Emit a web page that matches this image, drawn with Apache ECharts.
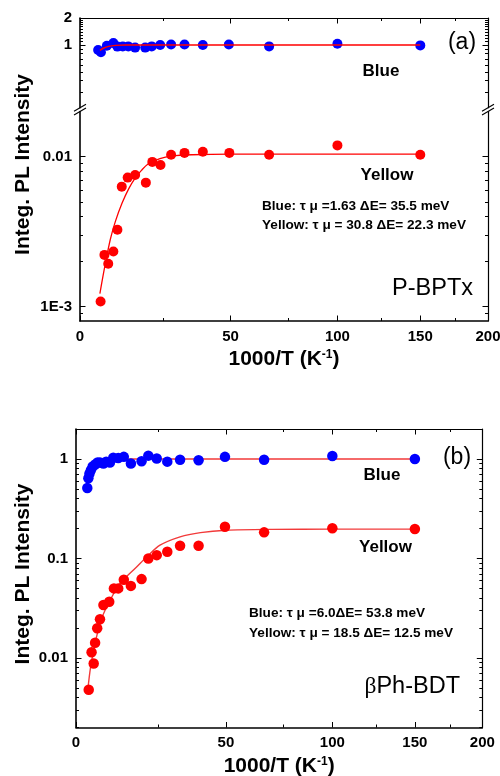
<!DOCTYPE html>
<html>
<head>
<meta charset="utf-8">
<script src="https://cdn.jsdelivr.net/npm/echarts@6/dist/echarts.min.js"></script>
<style>
html, body { margin: 0; padding: 0; background: #fff; }
#chart { width: 500px; height: 776px; }
</style>
</head>
<body>
<div id="chart"></div>
<script>
// ---- 1000/T axis ----
const xRange = [0, 200];
const xMajorTicks = [0, 50, 100, 150, 200];
const xMajorLabels = ['0', '50', '100', '150', '200'];
const xMinorTicks = [25, 75, 125, 175];

// ---- P-BPTx: broken intensity axis ----
const aUpperRange = [0.2, 2];
const aUpperTicks = [1, 2];
const aUpperLabels = ['1', '2'];
const aUpperMinor = [0.3, 0.4, 0.5, 0.6, 0.7, 0.8, 0.9, 1.1, 1.2, 1.3, 1.4, 1.5, 1.6, 1.7, 1.8, 1.9];
const aLowerRange = [0.0008, 0.02];
const aLowerTicks = [0.001, 0.01];
const aLowerLabels = ['1E-3', '0.01'];
const aLowerMinor = [0.0009, 0.002, 0.003, 0.004, 0.005, 0.006, 0.007, 0.008, 0.009];

// ---- βPh-BDT intensity axis ----
const bRange = [0.002, 2];
const bTicks = [0.01, 0.1, 1];
const bLabels = ['0.01', '0.1', '1'];
const bMinor = [0.002, 0.003, 0.004, 0.005, 0.006, 0.007, 0.008, 0.009,
                0.02, 0.03, 0.04, 0.05, 0.06, 0.07, 0.08, 0.09,
                0.2, 0.3, 0.4, 0.5, 0.6, 0.7, 0.8, 0.9];

// ---- P-BPTx measurements ----
const aBlueX = [5.0, 5.8, 7.5, 9.4, 10.6, 12.2, 13.9, 16.0, 19.2, 21.3, 24.1, 27.8, 32.5, 39.2, 49.3, 66.4, 100, 150];
const aBlueY = [0.88, 0.83, 0.98, 1.05, 0.96, 0.965, 0.965, 0.935, 0.935, 0.965, 1.0, 1.015, 1.015, 1.0, 1.015, 0.965, 1.035, 0.99];
const aBlueFitX = [5.5, 6.5, 8, 10, 13, 20, 150];
const aBlueFitY = [0.87, 0.92, 0.965, 0.99, 1.0, 1.0, 1.0];

const aYellowX = [5.7, 6.8, 7.9, 9.4, 10.6, 11.9, 13.7, 16.0, 19.4, 21.5, 24.2, 27.8, 32.5, 39.2, 49.5, 66.4, 100, 150];
const aYellowY = [0.00108, 0.00221, 0.00193, 0.00233, 0.00325, 0.00631, 0.00725, 0.00755, 0.00671, 0.00923, 0.00881, 0.0103, 0.0106, 0.0108, 0.0106, 0.0103, 0.0119, 0.0103];
const aYellowFitX = [5.5, 7, 8.5, 10, 12, 14, 16, 18, 20, 24, 28, 35, 50, 100, 150];
const aYellowFitY = [0.00122, 0.0019, 0.0028, 0.0037, 0.0049, 0.0061, 0.0072, 0.0081, 0.0089, 0.0097, 0.0101, 0.0103, 0.0104, 0.0104, 0.0104];

// ---- βPh-BDT measurements ----
const bBlueX = [3.1, 3.4, 3.7, 4.1, 4.6, 5.3, 6.0, 6.7, 7.7, 8.5, 9.6, 10.6, 12.1, 13.8, 16.0, 19.4, 21.6, 24.4, 28.0, 32.5, 39.3, 49.6, 66.3, 100, 150];
const bBlueY = [0.51, 0.64, 0.71, 0.77, 0.84, 0.88, 0.92, 0.92, 0.90, 0.94, 0.92, 1.03, 1.02, 1.05, 0.90, 0.95, 1.08, 1.01, 0.94, 0.98, 0.97, 1.05, 0.98, 1.07, 1.0];
const bBlueFitX = [3.0, 3.5, 4, 4.8, 5.5, 6.7, 8, 9.6, 12, 16, 150];
const bBlueFitY = [0.52, 0.6, 0.68, 0.78, 0.85, 0.92, 0.96, 0.98, 0.995, 1.0, 1.0];

const bYellowX = [3.5, 4.3, 4.9, 5.3, 5.9, 6.7, 7.7, 9.4, 10.8, 12.1, 13.8, 16.0, 19.4, 21.6, 24.4, 28.0, 32.5, 39.3, 49.6, 66.3, 100, 150];
const bYellowY = [0.0048, 0.0114, 0.0088, 0.0142, 0.0199, 0.0245, 0.034, 0.0367, 0.050, 0.050, 0.061, 0.053, 0.062, 0.100, 0.108, 0.117, 0.134, 0.134, 0.208, 0.183, 0.201, 0.198];
const bYellowFitX = [3.3, 4, 5, 6, 7, 8.5, 10, 12.6, 17.8, 21.1, 25.5, 32.5, 40, 50, 70, 100, 150];
const bYellowFitY = [0.005, 0.008, 0.0125, 0.018, 0.024, 0.032, 0.040, 0.056, 0.082, 0.104, 0.136, 0.165, 0.182, 0.192, 0.196, 0.197, 0.197];

// ---- scales: the 1000/T axis is laid out on log10(1000/T + 100), intensity on log10 ----
const X_SHIFT = 100;
const tx = v => Math.log10(v + X_SHIFT);
const ty = v => Math.log10(v);

// ---- layout ----
const FONT = '"Liberation Sans", Arial, Helvetica, sans-serif';
const A_LEFT = 80, A_WIDTH = 408, A_UP_TOP = 18, A_UP_H = 89.7, A_GAP = 3.9, A_LOW_H = 209.4;
const B_LEFT = 76, B_WIDTH = 406.3, B_TOP = 429, B_H = 298.5;
const BLUE = '#0000ff', RED = '#ff0000';

function labelFormatter(values, labels, fn) {
  return function (val) {
    for (let i = 0; i < values.length; i++) {
      if (Math.abs(fn(values[i]) - val) < 1e-6) return labels[i];
    }
    return '';
  };
}

const xName = {
  name: '{t|1000/T (K}{s|-1}{t|)}',
  nameLocation: 'middle',
  nameGap: 28,
  nameTextStyle: {
    rich: {
      t: { fontFamily: FONT, fontWeight: 'bold', fontSize: 21, color: '#000' },
      s: { fontFamily: FONT, fontWeight: 'bold', fontSize: 12, color: '#000', verticalAlign: 'top' }
    }
  }
};

function xAxis(grid, position, ticks, len, withLine, withLabels, lineWidth, extra) {
  return Object.assign({
    type: 'value', gridIndex: grid, position: position,
    min: tx(xRange[0]), max: tx(xRange[1]),
    axisLine: { show: withLine, onZero: false, lineStyle: { color: '#000', width: lineWidth } },
    axisTick: { show: true, inside: true, length: len, customValues: ticks.map(tx), lineStyle: { color: '#000', width: 1 } },
    axisLabel: {
      show: withLabels, margin: 8, customValues: xMajorTicks.map(tx),
      formatter: labelFormatter(xMajorTicks, xMajorLabels, tx),
      fontFamily: FONT, fontWeight: 'bold', fontSize: 15, color: '#000'
    },
    splitLine: { show: false }
  }, extra || {});
}

function yAxis(grid, position, range, ticks, len, withLine, labelVals, labelTexts, lineWidth) {
  return {
    type: 'value', gridIndex: grid, position: position,
    min: ty(range[0]), max: ty(range[1]),
    axisLine: { show: withLine, onZero: false, lineStyle: { color: '#000', width: lineWidth } },
    axisTick: { show: true, inside: true, length: len, customValues: ticks.map(ty), lineStyle: { color: '#000', width: 1 } },
    axisLabel: {
      show: !!labelVals, margin: 8,
      customValues: labelVals ? labelVals.map(ty) : undefined,
      formatter: labelVals ? labelFormatter(labelVals, labelTexts, ty) : undefined,
      fontFamily: FONT, fontWeight: 'bold', fontSize: 15, color: '#000'
    },
    splitLine: { show: false }
  };
}

const xAxes = [
  // 0,1: P-BPTx top border
  xAxis(0, 'top', xMajorTicks, 5.5, true, false, 1.2),
  xAxis(0, 'top', xMinorTicks, 3, false, false, 1.2),
  // 2,3: P-BPTx bottom axis
  xAxis(1, 'bottom', xMajorTicks, 5.5, true, true, 1.6, xName),
  xAxis(1, 'bottom', xMinorTicks, 3, false, false, 1.6),
  // 4,5: βPh-BDT bottom axis
  xAxis(2, 'bottom', xMajorTicks, 5.5, true, true, 1.6, xName),
  xAxis(2, 'bottom', xMinorTicks, 3, false, false, 1.6),
  // 6,7: βPh-BDT top border
  xAxis(2, 'top', xMajorTicks, 5.5, true, false, 1.2),
  xAxis(2, 'top', xMinorTicks, 3, false, false, 1.2)
];

const yAxes = [
  // 0-3: P-BPTx upper segment
  yAxis(0, 'left', aUpperRange, aUpperTicks, 5.5, true, aUpperTicks, aUpperLabels, 1.6),
  yAxis(0, 'left', aUpperRange, aUpperMinor, 3, false, null, null, 1.6),
  yAxis(0, 'right', aUpperRange, aUpperTicks, 5.5, true, null, null, 1.2),
  yAxis(0, 'right', aUpperRange, aUpperMinor, 3, false, null, null, 1.2),
  // 4-7: P-BPTx lower segment
  yAxis(1, 'left', aLowerRange, aLowerTicks, 5.5, true, aLowerTicks, aLowerLabels, 1.6),
  yAxis(1, 'left', aLowerRange, aLowerMinor, 3, false, null, null, 1.6),
  yAxis(1, 'right', aLowerRange, aLowerTicks, 5.5, true, null, null, 1.2),
  yAxis(1, 'right', aLowerRange, aLowerMinor, 3, false, null, null, 1.2),
  // 8-11: βPh-BDT
  yAxis(2, 'left', bRange, bTicks, 5.5, true, bTicks, bLabels, 1.6),
  yAxis(2, 'left', bRange, bMinor, 3, false, null, null, 1.6),
  yAxis(2, 'right', bRange, bTicks, 5.5, true, null, null, 1.2),
  yAxis(2, 'right', bRange, bMinor, 3, false, null, null, 1.2)
];

function pairs(xs, ys) { return xs.map((x, i) => [tx(x), ty(ys[i])]); }

function dots(name, xi, yi, xs, ys, color, size, z) {
  return { type: 'scatter', name: name, xAxisIndex: xi, yAxisIndex: yi, data: pairs(xs, ys),
    symbol: 'circle', symbolSize: size, itemStyle: { color: color, opacity: 1 }, z: z, silent: true };
}
function fit(name, xi, yi, xs, ys, color, width, z) {
  return { type: 'line', name: name, xAxisIndex: xi, yAxisIndex: yi, data: pairs(xs, ys),
    smooth: 0.3, showSymbol: false, symbol: 'none',
    lineStyle: { color: color, width: width }, z: z, silent: true };
}

const series = [
  dots('Blue', 0, 0, aBlueX, aBlueY, BLUE, 10, 2),
  fit('Blue fit', 0, 0, aBlueFitX, aBlueFitY, RED, 1.4, 3),
  dots('Yellow', 2, 4, aYellowX, aYellowY, RED, 10, 2),
  fit('Yellow fit', 2, 4, aYellowFitX, aYellowFitY, RED, 1.3, 3),
  fit('Blue fit', 4, 8, bBlueFitX, bBlueFitY, '#f23a3a', 1.4, 1),
  fit('Yellow fit', 4, 8, bYellowFitX, bYellowFitY, '#f23a3a', 1.4, 1),
  dots('Blue', 4, 8, bBlueX, bBlueY, BLUE, 10.5, 2),
  dots('Yellow', 4, 8, bYellowX, bYellowY, RED, 10.5, 2)
];

function text(x, y, str, size, weight, align, extra) {
  return Object.assign({
    type: 'text', x: x, y: y, silent: true,
    style: { text: str, fontFamily: FONT, fontSize: size, fontWeight: weight,
      fill: '#000', align: align, verticalAlign: 'middle' }
  }, extra || {});
}

// break symbol on the P-BPTx intensity axis
const breakY = A_UP_TOP + A_UP_H + A_GAP / 2;
function breakMarks(x) {
  return [-1.9, 1.9].map(d => ({
    type: 'line', silent: true,
    shape: { x1: x - 6, y1: breakY + d + 3.5, x2: x + 6, y2: breakY + d - 3.5 },
    style: { stroke: '#000', lineWidth: 1.1 }
  }));
}

const graphic = [].concat(
  breakMarks(A_LEFT), breakMarks(A_LEFT + A_WIDTH),
  [
    text(23, 164.5, 'Integ. PL Intensity', 21, 'bold', 'center', { rotation: Math.PI / 2 }),
    text(23, 574, 'Integ. PL Intensity', 21, 'bold', 'center', { rotation: Math.PI / 2 }),
    text(462, 43, '(a)', 23, 'normal', 'center'),
    text(381, 71, 'Blue', 17, 'bold', 'center'),
    text(387, 175, 'Yellow', 17, 'bold', 'center'),
    text(262, 206, 'Blue: τ μ =1.63 ΔE= 35.5 meV', 13.6, 'bold', 'left'),
    text(262, 225, 'Yellow: τ μ = 30.8 ΔE= 22.3 meV', 13.6, 'bold', 'left'),
    text(473, 289, 'P-BPTx', 23.5, 'normal', 'right'),
    text(457, 457.5, '(b)', 23, 'normal', 'center'),
    text(382, 475, 'Blue', 17, 'bold', 'center'),
    text(385.5, 547, 'Yellow', 17, 'bold', 'center'),
    text(249, 613, 'Blue: τ μ =6.0ΔE= 53.8 meV', 13.6, 'bold', 'left'),
    text(249, 633, 'Yellow: τ μ = 18.5 ΔE= 12.5 meV', 13.6, 'bold', 'left'),
    {
      type: 'text', x: 460, y: 687, silent: true,
      style: {
        text: '{g|β}{t|Ph-BDT}', align: 'right', verticalAlign: 'middle', fill: '#000',
        rich: {
          g: { fontFamily: '"Liberation Serif", serif', fontSize: 23.5, fill: '#000' },
          t: { fontFamily: FONT, fontSize: 23.5, fill: '#000' }
        }
      }
    }
  ]
);

const chart = echarts.init(document.getElementById('chart'), null, { renderer: 'canvas' });
chart.setOption({
  animation: false,
  backgroundColor: '#fff',
  grid: [
    { left: A_LEFT, top: A_UP_TOP, width: A_WIDTH, height: A_UP_H, outerBoundsMode: 'none' },
    { left: A_LEFT, top: A_UP_TOP + A_UP_H + A_GAP, width: A_WIDTH, height: A_LOW_H, outerBoundsMode: 'none' },
    { left: B_LEFT, top: B_TOP, width: B_WIDTH, height: B_H, outerBoundsMode: 'none' }
  ],
  xAxis: xAxes,
  yAxis: yAxes,
  series: series,
  graphic: graphic
});
</script>
</body>
</html>
